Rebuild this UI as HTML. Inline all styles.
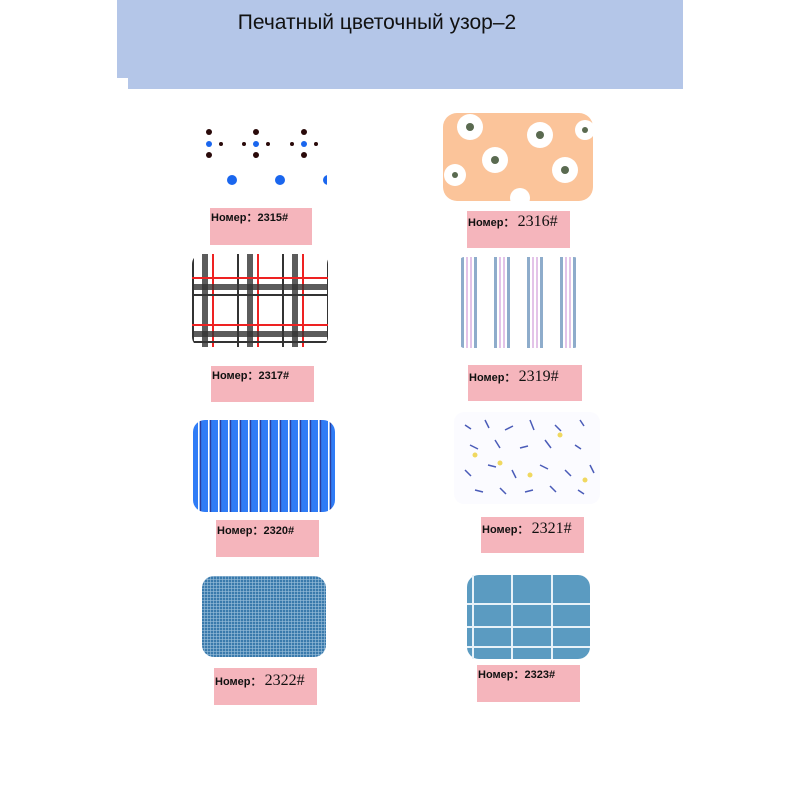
<!DOCTYPE html>
<html><head><meta charset="utf-8"><style>
body{margin:0;width:800px;height:800px;background:#fff;position:relative;overflow:hidden;font-family:"Liberation Sans",sans-serif}
.a{position:absolute}
.lab{position:absolute;background:#f5b5bc;font-size:11px;font-weight:bold;color:#111;box-sizing:border-box;padding-left:1px}
.lab b{font-family:"Liberation Serif",serif;font-weight:normal;font-size:16px}
</style></head><body>
<div class="a" style="left:117px;top:0;width:566px;height:78px;background:#b4c6e8"></div>
<div class="a" style="left:128px;top:78px;width:555px;height:11px;background:#b4c6e8"></div>
<div class="a" style="left:117px;top:11px;width:520px;text-align:center;font-size:21px;color:#111">Печатный цветочный узор–2</div>

<svg class="a" style="left:0;top:0" width="800" height="800">
<defs>
<pattern id="plaid" x="192" y="254" width="45" height="47" patternUnits="userSpaceOnUse">
<rect width="45" height="47" fill="#fff"/>
<rect x="10" width="6" height="47" fill="#333" opacity=".8"/><rect x="20" width="2" height="47" fill="#e22"/>
<rect x="0" width="2" height="47" fill="#333"/>
<rect y="30" width="45" height="6" fill="#333" opacity=".8"/><rect y="23" width="45" height="2" fill="#e22"/>
<rect y="40" width="45" height="2" fill="#333"/>
</pattern>
<pattern id="bst" x="193" y="0" width="10" height="10" patternUnits="userSpaceOnUse">
<rect width="10" height="10" fill="#2f7cf6"/><rect x="5" width="1.5" height="10" fill="#fff"/><rect x="7" width="1.2" height="10" fill="#2a3e9e"/>
</pattern>
<pattern id="grid" width="3" height="3" patternUnits="userSpaceOnUse">
<rect width="3" height="3" fill="#3a7aac"/><rect width="3" height=".6" fill="#9cc0dc"/><rect width=".6" height="3" fill="#9cc0dc"/>
</pattern>
<pattern id="pst" x="460" y="0" width="33" height="10" patternUnits="userSpaceOnUse">
<rect width="33" height="10" fill="#fff"/><rect x="1" width="3" height="10" fill="#8eaccb"/><rect x="6" width="2" height="10" fill="#e3c3e8"/><rect x="10" width="2" height="10" fill="#e3c3e8"/><rect x="14" width="3" height="10" fill="#8eaccb"/>
</pattern>
</defs>
<!-- 2315 -->
<g fill="#2a0a0a">
<circle cx="209" cy="132" r="3"/><circle cx="209" cy="155" r="3"/><circle cx="221" cy="144" r="2"/>
<circle cx="256" cy="132" r="3"/><circle cx="256" cy="155" r="3"/><circle cx="244" cy="144" r="2"/><circle cx="268" cy="144" r="2"/>
<circle cx="304" cy="132" r="3"/><circle cx="304" cy="155" r="3"/><circle cx="292" cy="144" r="2"/><circle cx="316" cy="144" r="2"/>
</g>
<g fill="#1a66ee"><circle cx="209" cy="144" r="3"/><circle cx="256" cy="144" r="3"/><circle cx="304" cy="144" r="3"/>
<circle cx="232" cy="180" r="5"/><circle cx="280" cy="180" r="5"/><circle cx="328" cy="180" r="5"/></g>
<rect x="327" y="170" width="10" height="20" fill="#fff"/>
<!-- 2316 -->
<rect x="443" y="113" width="150" height="88" rx="14" fill="#fbc49a"/>
<g fill="#fff"><circle cx="470" cy="127" r="13"/><circle cx="540" cy="135" r="13"/><circle cx="495" cy="160" r="13"/><circle cx="565" cy="170" r="13"/><circle cx="455" cy="175" r="11"/><circle cx="520" cy="198" r="10"/><circle cx="585" cy="130" r="10"/></g>
<g fill="#5a6a50"><circle cx="470" cy="127" r="4"/><circle cx="540" cy="135" r="4"/><circle cx="495" cy="160" r="4"/><circle cx="565" cy="170" r="4"/><circle cx="455" cy="175" r="3"/><circle cx="585" cy="130" r="3"/></g>
<!-- 2317 -->
<rect x="192" y="254" width="136" height="93" rx="10" fill="url(#plaid)"/>
<!-- 2319 -->
<rect x="460" y="257" width="118" height="91" rx="4" fill="url(#pst)"/>
<!-- 2320 -->
<rect x="193" y="420" width="142" height="92" rx="12" fill="url(#bst)"/>
<!-- 2321 -->
<rect x="454" y="412" width="146" height="92" rx="10" fill="#fbfbff"/>
<g stroke="#4b5cb8" stroke-width="1.5" fill="none">
<path d="M465 425l6 4M485 420l4 8M505 430l8-4M530 420l4 10M555 425l6 6M580 420l4 6M470 445l8 4M495 440l5 8M520 448l8-2M545 440l6 8M575 445l6 4M465 470l6 6M488 465l8 2M512 470l4 8M540 465l8 4M565 470l6 6M590 465l4 8M475 490l8 2M500 488l6 6M525 492l8-2M550 486l6 6M578 490l6 4"/>
</g>
<g fill="#f0d860"><circle cx="500" cy="463" r="2.5"/><circle cx="560" cy="435" r="2.5"/><circle cx="530" cy="475" r="2.5"/><circle cx="475" cy="455" r="2.5"/><circle cx="585" cy="480" r="2.5"/></g>
<!-- 2322 -->
<rect x="202" y="576" width="124" height="81" rx="12" fill="url(#grid)"/>
<!-- 2323 -->
<rect x="467" y="575" width="123" height="84" rx="12" fill="#5b9bc1"/>
<g fill="#e8f2f8"><rect x="467" y="603" width="123" height="2"/><rect x="467" y="626" width="123" height="2"/><rect x="467" y="646" width="123" height="2"/>
<rect x="472" y="575" width="2" height="84"/><rect x="511" y="575" width="2" height="84"/><rect x="551" y="575" width="2" height="84"/></g>
</svg>

<div class="lab" style="left:210px;top:208px;width:102px;height:37px;padding-top:1px">Номер：2315#</div>
<div class="lab" style="left:467px;top:211px;width:103px;height:37px;padding-top:2px">Номер： <b>2316#</b></div>
<div class="lab" style="left:211px;top:366px;width:103px;height:36px;padding-top:1px">Номер：2317#</div>
<div class="lab" style="left:468px;top:365px;width:114px;height:36px;padding-top:3px">Номер： <b>2319#</b></div>
<div class="lab" style="left:216px;top:520px;width:103px;height:37px;padding-top:2px">Номер：2320#</div>
<div class="lab" style="left:481px;top:517px;width:103px;height:36px;padding-top:3px">Номер： <b>2321#</b></div>
<div class="lab" style="left:214px;top:668px;width:103px;height:37px;padding-top:4px">Номер： <b>2322#</b></div>
<div class="lab" style="left:477px;top:665px;width:103px;height:37px;padding-top:1px">Номер：2323#</div>
</body></html>
